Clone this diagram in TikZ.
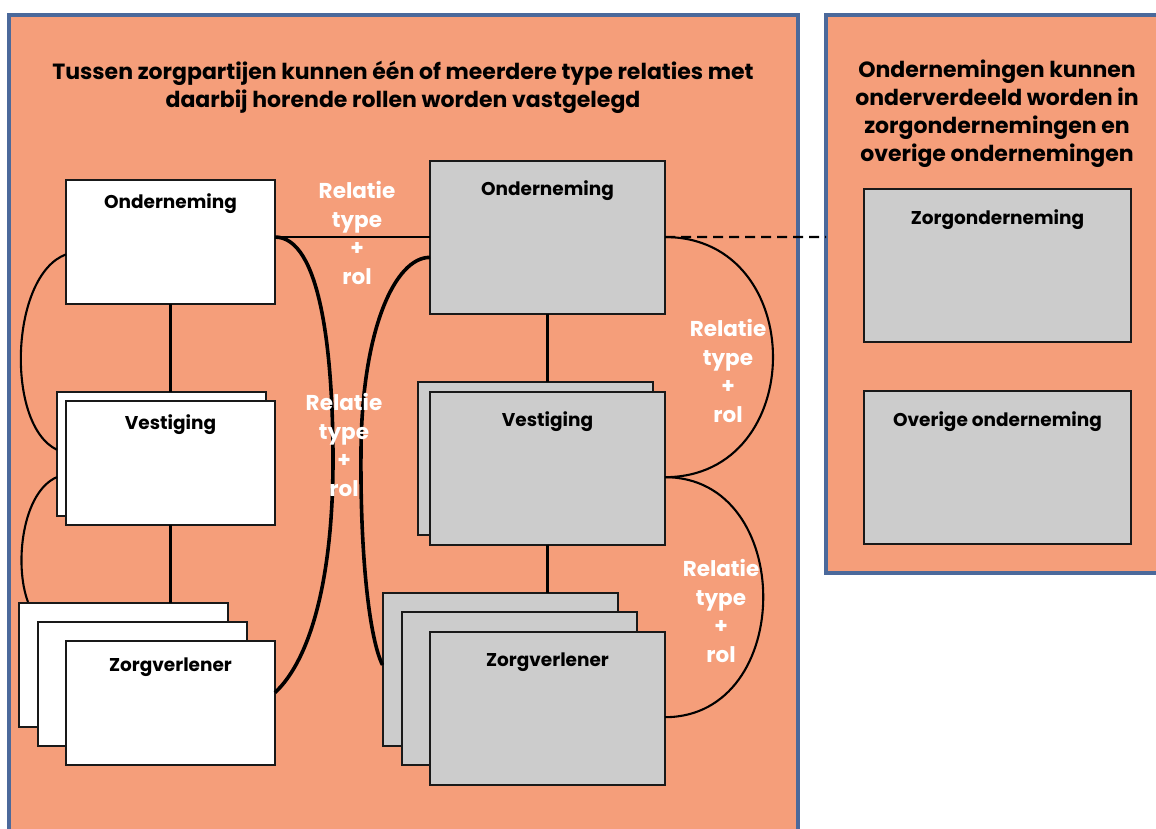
\documentclass[tikz,border=0pt]{standalone}
\usepackage{fontspec}
\setmainfont{Poppins}
\usetikzlibrary{calc}
\definecolor{salmon}{RGB}{245,158,122}
\definecolor{frameblue}{RGB}{75,105,155}
\definecolor{boxgray}{RGB}{204,204,204}
\tikzset{
  frame/.style={draw=frameblue, line width=3.4pt, fill=salmon},
  wbox/.style={draw=black!90, line width=2pt, fill=white, minimum width=209pt, minimum height=124pt, inner sep=0pt, outer sep=0pt},
  gbox/.style={draw=black!90, line width=2pt, fill=boxgray, minimum width=235pt, minimum height=153pt, inner sep=0pt, outer sep=0pt},
  boxtxt/.style={font=\bfseries\fontsize{18.5}{20}\selectfont, text=black, inner sep=0pt},
  titletxt/.style={font=\bfseries\fontsize{22}{28}\selectfont, text=black, align=center, inner sep=0pt},
  reltxt/.style={font=\bfseries\fontsize{21.5}{28.5}\selectfont, text=white, align=center, inner sep=0pt},
  conn/.style={draw=black, line width=2.1pt},
  thick conn/.style={draw=black, line width=3.6pt},
}
\begin{document}
\begin{tikzpicture}[x=1pt,y=-1pt]
\useasboundingbox (0,0) rectangle (1156,828);
% frames
\path[frame] (9,15) rectangle (798,840);
\path[frame] (826,15) rectangle (1170,573);
% titles
\node[titletxt] (t1) at (403,87) {Tussen zorgpartijen kunnen één of meerdere type relaties met\\daarbij horende rollen worden vastgelegd};
\node[titletxt] (t2) at (997,114) {Ondernemingen kunnen\\onderverdeeld worden in\\zorgondernemingen en\\overige ondernemingen};
% right frame boxes
\node[gbox, minimum width=267pt, minimum height=153pt] (zo) at (997.5,265.5) {};
\node[boxtxt] at (997.5,220) {Zorgonderneming};
\node[gbox, minimum width=267pt, minimum height=153pt] (oo) at (997.5,467.5) {};
\node[boxtxt] at (997.5,422) {Overige onderneming};
% left column (white)
\node[wbox] (lo) at (170.5,242) {};
\node[boxtxt] at (170.5,204) {Onderneming};
\node[wbox] (lvb) at (161.5,453.5) {};
\node[wbox] (lv) at (170.5,463) {};
\node[boxtxt] at (170.5,425) {Vestiging};
\node[wbox] (lzb1) at (123,664.5) {};
\node[wbox] (lzb2) at (142,683.5) {};
\node[wbox] (lz) at (170.5,702.5) {};
\node[boxtxt] at (170.5,667) {Zorgverlener};
% right column (gray)
\node[gbox] (ro) at (547.5,237.5) {};
\node[boxtxt] at (547.5,191) {Onderneming};
\node[gbox] (rvb) at (535.5,458) {};
\node[gbox] (rv) at (547.5,468) {};
\node[boxtxt] at (547.5,422) {Vestiging};
\node[gbox] (rzb1) at (500,669.5) {};
\node[gbox] (rzb2) at (519.5,688.5) {};
\node[gbox] (rz) at (547.5,708) {};
\node[boxtxt] at (547.5,662) {Zorgverlener};
% vertical connectors
\draw[conn] (lo.south) -- (lo.south |- lvb.north);
\draw[conn] (lv.south) -- (lv.south |- lzb1.north);
\draw[conn] (ro.south) -- (ro.south |- rvb.north);
\draw[conn] (rv.south) -- (rv.south |- rzb1.north);
% horizontal relation
\coordinate (lor) at ($(lo.north east)!0.46!(lo.south east)$);
\coordinate (rol) at (ro.west |- lor);
\draw[conn] (lor) -- (rol);
\coordinate (ror) at (ro.east |- lor);
\coordinate (fl) at (826,237);
\draw[conn, dash pattern=on 10pt off 6pt] (ror) -- (fl);
% left curves
\draw[conn] ($(lo.north west)!0.6!(lo.south west)$) .. controls (10,275) and (5,425) .. ($(lvb.north west)!0.47!(lvb.south west)$);
\draw[conn] ($(lvb.north west)!0.69!(lvb.south west)$) .. controls (22,492) and (14,565) .. (28,602);
% middle thick curves
\draw[thick conn] (lor) .. controls (320,237) and (333,350) .. (333,460) .. controls (333,580) and (310,660) .. ($(lz.north east)!0.42!(lz.south east)$);
\draw[thick conn] ($(ro.north west)!0.63!(ro.south west)$) .. controls (395,257) and (362,330) .. (361,450) .. controls (360,560) and (370,640) .. ($(rzb1.north west)!0.47!(rzb1.south west)$);
% right arcs
\coordinate (rvr) at ($(rv.north east)!0.56!(rv.south east)$);
\draw[conn] (ror) .. controls (809,237) and (809,477) .. (rvr);
\draw[conn] (rvr) .. controls (796,477) and (796,717) .. ($(rz.north east)!0.56!(rz.south east)$);
% relation labels
\node[reltxt] (r1) at (357,233) {Relatie\\type\\+\\rol};
\node[reltxt] (r2) at (344,445) {Relatie\\type\\+\\rol};
\node[reltxt] (r3) at (728,371) {Relatie\\type\\+\\rol};
\node[reltxt] (r4) at (721,611) {Relatie\\type\\+\\rol};
\end{tikzpicture}
\end{document}
